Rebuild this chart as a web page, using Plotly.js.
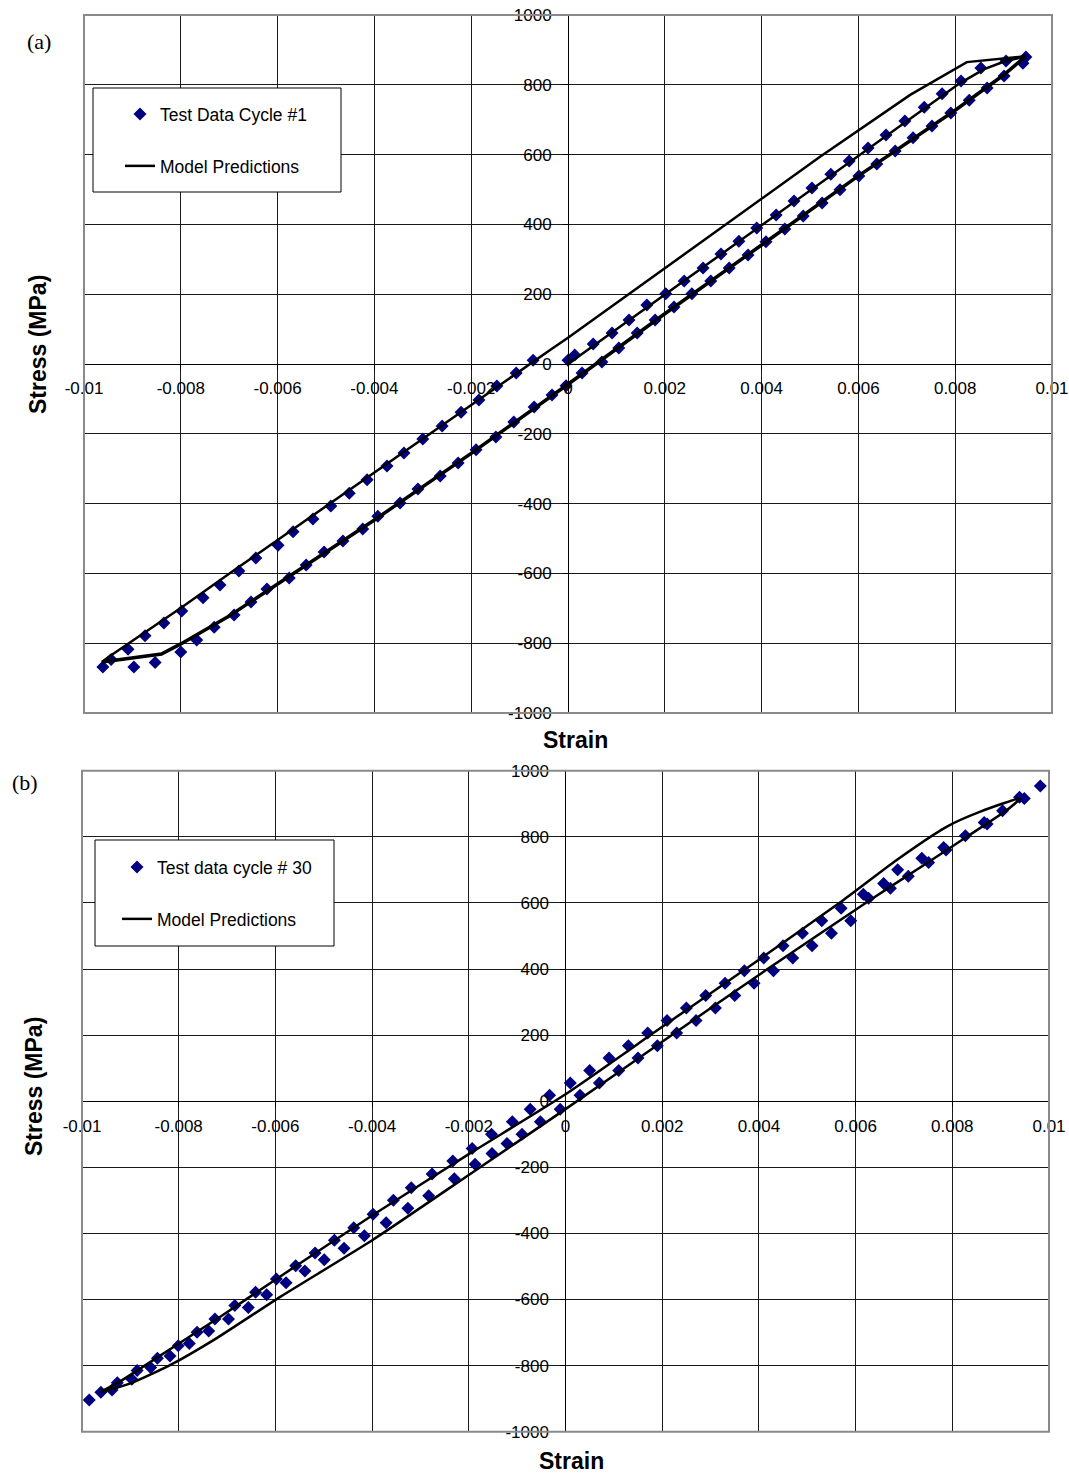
<!DOCTYPE html>
<html>
<head>
<meta charset="utf-8">
<script src="https://cdn.plot.ly/plotly-3.0.1.min.js"></script>
<style>html,body{margin:0;padding:0;background:#fff;}#chart{width:1069px;height:1475px;}</style>
</head>
<body>
<div id="chart"></div>
<script>
// ---------- Data: (a) Test Data Cycle #1 ----------
const test1Strain = [
  0, 0.00014, 0.00052, 0.00091, 0.00126, 0.00163, 0.00202, 0.0024, 0.00279, 0.00316, 0.00353, 0.0039, 0.0043,
  0.00467, 0.00504, 0.00543, 0.00581, 0.0062, 0.00657, 0.00696, 0.00736, 0.00773, 0.00812, 0.00853, 0.00905, 0.00946,
  0.0094, 0.00901, 0.00866, 0.00829, 0.00791, 0.00752, 0.00713, 0.00676, 0.00638, 0.00601, 0.00562, 0.00525, 0.00486,
  0.00448, 0.00409, 0.00372, 0.00333, 0.00295, 0.00256, 0.00219, 0.0018, 0.00143, 0.00105, 0.0007, 0.00029, -0.00004,
  -0.00033, -0.0007, -0.00112, -0.00149, -0.0019, -0.00227, -0.00264, -0.0031, -0.00347, -0.00393, -0.00424, -0.00465,
  -0.00504, -0.00541, -0.00576, -0.00622, -0.00655, -0.0069, -0.00731, -0.00767, -0.008, -0.00853, -0.00897, -0.00961,
  -0.00944, -0.00909, -0.00874, -0.00835, -0.00798, -0.00754, -0.00719, -0.0068, -0.00645, -0.00599, -0.00568, -0.00527,
  -0.0049, -0.00452, -0.00415, -0.00374, -0.00339, -0.003, -0.0026, -0.00221, -0.00184, -0.00147, -0.00107, -0.00072
];
const test1Stress = [
  11, 26, 57, 89, 126, 169, 201, 238, 275, 315, 352, 390, 427,
  467, 504, 544, 582, 619, 656, 696, 736, 774, 811, 848, 868, 880,
  862, 825, 791, 756, 719, 682, 648, 610, 573, 539, 499, 461, 424,
  387, 350, 312, 275, 238, 201, 163, 126, 89, 46, 6, -26, -62,
  -89, -123, -166, -209, -246, -284, -321, -358, -398, -436, -473, -507,
  -539, -576, -613, -645, -682, -719, -754, -791, -825, -855, -868, -868,
  -847, -817, -779, -742, -708, -670, -633, -593, -556, -519, -481, -444,
  -407, -370, -332, -292, -255, -215, -178, -138, -103, -63, -26, 11
];
// ---------- Data: (a) Model Predictions (loading, then reverse branches) ----------
const model1LoadStrain = [0, 0.0081, 0.0086, 0.009, 0.00946, null,
  -0.00963, -0.0095, -0.008, -0.00698, -0.00037, 0, 0.0052, 0.00707, 0.00824, 0.00946];
const model1LoadStress = [0, 805, 845, 866, 882, null,
  -854, -840, -699, -599, 40, 75, 593, 771, 865, 882];
const model1UnloadStrain = [0.00946, 0.009, 0.008, 0.006, 0.004, 0.002, 0, -0.002, -0.004, -0.006, -0.007, -0.008, -0.0084, -0.00963];
const model1UnloadStress = [882, 828, 727, 539, 341, 144, -58, -256, -447, -630, -722, -802, -831, -854];

// ---------- Data: (b) Test data cycle # 30 ----------
const test30Strain = [
  -0.00985, -0.00961, -0.00927, -0.00886, -0.00844, -0.00801, -0.00762, -0.00725, -0.00684, -0.00641, -0.00598, -0.00558,
  -0.00518, -0.00478, -0.00438, -0.00398, -0.00356, -0.00319, -0.00276, -0.00233, -0.00193, -0.00153, -0.0011, -0.00073,
  -0.00033, 0.0001, 0.0005, 0.0009, 0.0013, 0.0017, 0.0021, 0.0025, 0.0029, 0.0033, 0.0037, 0.0041, 0.0045, 0.0049,
  0.0053, 0.0057, 0.00616, 0.00658, 0.00687, 0.00737, 0.00782, 0.00827, 0.00866, 0.00904, 0.00939, 0.00982,
  -0.00938, -0.00897, -0.00858, -0.00818, -0.00778, -0.00738, -0.00697, -0.00656, -0.00618, -0.00578, -0.00539, -0.00499,
  -0.00458, -0.00416, -0.00371, -0.00326, -0.00283, -0.0023, -0.00187, -0.00152, -0.00121, -0.0009, -0.00052, -0.00011,
  0.0003, 0.0007, 0.0011, 0.0015, 0.0019, 0.0023, 0.0027, 0.0031, 0.0035, 0.0039, 0.0043, 0.0047, 0.0051, 0.0055,
  0.0059, 0.00627, 0.00672, 0.00709, 0.00751, 0.00787, 0.00872, 0.00949
];
const test30Stress = [
  -904, -881, -852, -815, -778, -740, -699, -659, -618, -578, -538, -498,
  -459, -421, -383, -342, -300, -262, -220, -181, -143, -100, -62, -24,
  18, 55, 93, 131, 168, 206, 244, 282, 320, 357, 395, 433, 470, 508,
  546, 584, 626, 659, 700, 735, 768, 803, 843, 879, 920, 954,
  -874, -841, -806, -771, -733, -695, -659, -624, -586, -549, -514, -480,
  -445, -407, -368, -324, -286, -235, -191, -158, -128, -100, -62, -24,
  18, 55, 93, 131, 168, 206, 244, 282, 320, 357, 395, 433, 470, 508,
  546, 614, 644, 681, 722, 760, 839, 916
];
// ---------- Data: (b) Model Predictions ----------
const model30Strain = [0.0094, 0.00858, 0.00789, 0.00685, 0.00575, 0.004, 0.002, 0, -0.002, -0.004, -0.006, -0.00714, -0.0081, -0.00928, -0.00962,
  -0.009, -0.00817, -0.00728, -0.0059, -0.00399, -0.00197, 0.00003, 0.002, 0.004, 0.0063, 0.00747, 0.0083, 0.00913, 0.0094];
const model30Stress = [916, 876, 831, 730, 609, 428, 225, 21, -160, -346, -540, -652, -743, -854, -880,
  -854, -798, -723, -592, -420, -220, -21, 180, 382, 609, 720, 800, 881, 916];

// ---------- Tick labels ----------
const xTickVals = [-0.01, -0.008, -0.006, -0.004, -0.002, 0, 0.002, 0.004, 0.006, 0.008, 0.01];
const xTickText = ['-0.01', '-0.008', '-0.006', '-0.004', '-0.002', '0', '0.002', '0.004', '0.006', '0.008', '0.01'];
const yTickVals = [-1000, -800, -600, -400, -200, 0, 200, 400, 600, 800, 1000];
const yTickText = ['-1000', '-800', '-600', '-400', '-200', '0', '200', '400', '600', '800', '1000'];

const labelA = ['Test Data Cycle #1', 'Model Predictions'];
const labelB = ['Test data cycle # 30', 'Model Predictions'];

// ---------- Layout helpers (pixel -> paper) ----------
const W = 1069, H = 1475;
const px = v => v / W;
const py = v => 1 - v / H;

const markerStyle = {symbol: 'diamond', size: 10, color: '#000080', line: {width: 0}};

const traces = [
  {type: 'scatter', mode: 'markers', x: test1Strain, y: test1Stress, xaxis: 'x', yaxis: 'y',
   name: labelA[0], marker: markerStyle, legend: 'legend', cliponaxis: false},
  {type: 'scatter', mode: 'lines', x: model1LoadStrain, y: model1LoadStress, xaxis: 'x', yaxis: 'y',
   name: labelA[1], line: {color: '#000', width: 2.5}, legend: 'legend2', legendgroup: 'm1', connectgaps: false},
  {type: 'scatter', mode: 'lines', x: model1UnloadStrain, y: model1UnloadStress, xaxis: 'x', yaxis: 'y',
   name: labelA[1], line: {color: '#000', width: 3.5}, legend: 'legend2', legendgroup: 'm1', showlegend: false},
  {type: 'scatter', mode: 'markers', x: test30Strain, y: test30Stress, xaxis: 'x2', yaxis: 'y2',
   name: labelB[0], marker: markerStyle, legend: 'legend3', cliponaxis: false},
  {type: 'scatter', mode: 'lines', x: model30Strain, y: model30Stress, xaxis: 'x2', yaxis: 'y2',
   name: labelB[1], line: {color: '#000', width: 2.5, shape: 'spline', smoothing: 0.6}, legend: 'legend4'}
];

const tickFont = {family: 'Liberation Sans, Arial, sans-serif', size: 17, color: '#000'};
function xAxis(dom, pos) {
  return {domain: dom, range: [-0.01, 0.01], tickmode: 'array', tickvals: xTickVals, ticktext: xTickText,
    anchor: 'free', position: pos, showgrid: true, gridcolor: '#1a1a1a', gridwidth: 1, zeroline: false,
    showline: true, linecolor: '#000', linewidth: 1, ticks: 'outside', ticklen: 5, tickcolor: '#000',
    tickfont: tickFont, ticklabelstandoff: 4, fixedrange: true};
}
function yAxis(dom, pos) {
  return {domain: dom, range: [-1000, 1000], tickmode: 'array', tickvals: yTickVals, ticktext: yTickText,
    anchor: 'free', position: pos, showgrid: true, gridcolor: '#1a1a1a', gridwidth: 1, zeroline: false,
    showline: true, linecolor: '#000', linewidth: 1, ticks: 'outside', ticklen: 5, tickcolor: '#000',
    tickfont: tickFont, ticklabelstandoff: 8, fixedrange: true};
}
function legendAt(xpx, ypx) {
  return {x: px(xpx), y: py(ypx), xanchor: 'left', yanchor: 'middle', bgcolor: 'rgba(0,0,0,0)',
    borderwidth: 0, font: {family: 'Liberation Sans, Arial, sans-serif', size: 17.5, color: '#000'}};
}
function box(x0, y0, x1, y1, color, width, fill) {
  return {type: 'rect', xref: 'paper', yref: 'paper', x0: px(x0), x1: px(x1), y0: py(y1), y1: py(y0),
    line: {color: color, width: width}, fillcolor: fill, layer: 'above'};
}
function ann(text, xpx, ypx, font, angle) {
  return {text: text, x: px(xpx), y: py(ypx), xref: 'paper', yref: 'paper', showarrow: false,
    xanchor: 'center', yanchor: 'middle', font: font, textangle: angle || 0};
}
const titleFont = {family: 'Liberation Sans, Arial, sans-serif', size: 23, color: '#000'};
const panelFont = {family: 'Liberation Serif, Times New Roman, serif', size: 22, color: '#000'};

const layout = {
  width: W, height: H, margin: {l: 0, r: 0, t: 0, b: 0},
  paper_bgcolor: '#fff', plot_bgcolor: '#fff', showlegend: true,
  font: {family: 'Liberation Sans, Arial, sans-serif', size: 17, color: '#000'},
  xaxis: xAxis([px(84), px(1052)], py(364)),
  yaxis: yAxis([py(713), py(15)], px(568)),
  xaxis2: xAxis([px(82), px(1049)], py(1101.2)),
  yaxis2: yAxis([py(1431.7), py(770.7)], px(565.3)),
  legend: legendAt(120, 114),
  legend2: legendAt(120, 166),
  legend3: legendAt(117, 867),
  legend4: legendAt(117, 919),
  shapes: [
    box(84, 15, 1052, 713, '#8a8a8a', 2, 'rgba(0,0,0,0)'),
    box(82, 770.7, 1049, 1431.7, '#8a8a8a', 2, 'rgba(0,0,0,0)'),
    box(93, 88, 341, 192, '#000', 1, '#fff'),
    box(95, 840, 334, 946, '#000', 1, '#fff')
  ],
  annotations: [
    ann('<b>Strain</b>', 575, 740, titleFont),
    ann('<b>Stress (MPa)</b>', 38, 345, titleFont, -90),
    ann('<b>Strain</b>', 571, 1461, titleFont),
    ann('<b>Stress (MPa)</b>', 34, 1087, titleFont, -90),
    ann('(a)', 39, 42, panelFont),
    ann('(b)', 25, 782, panelFont)
  ]
};

Plotly.newPlot('chart', traces, layout, {displayModeBar: false, staticPlot: true});
</script>
</body>
</html>
